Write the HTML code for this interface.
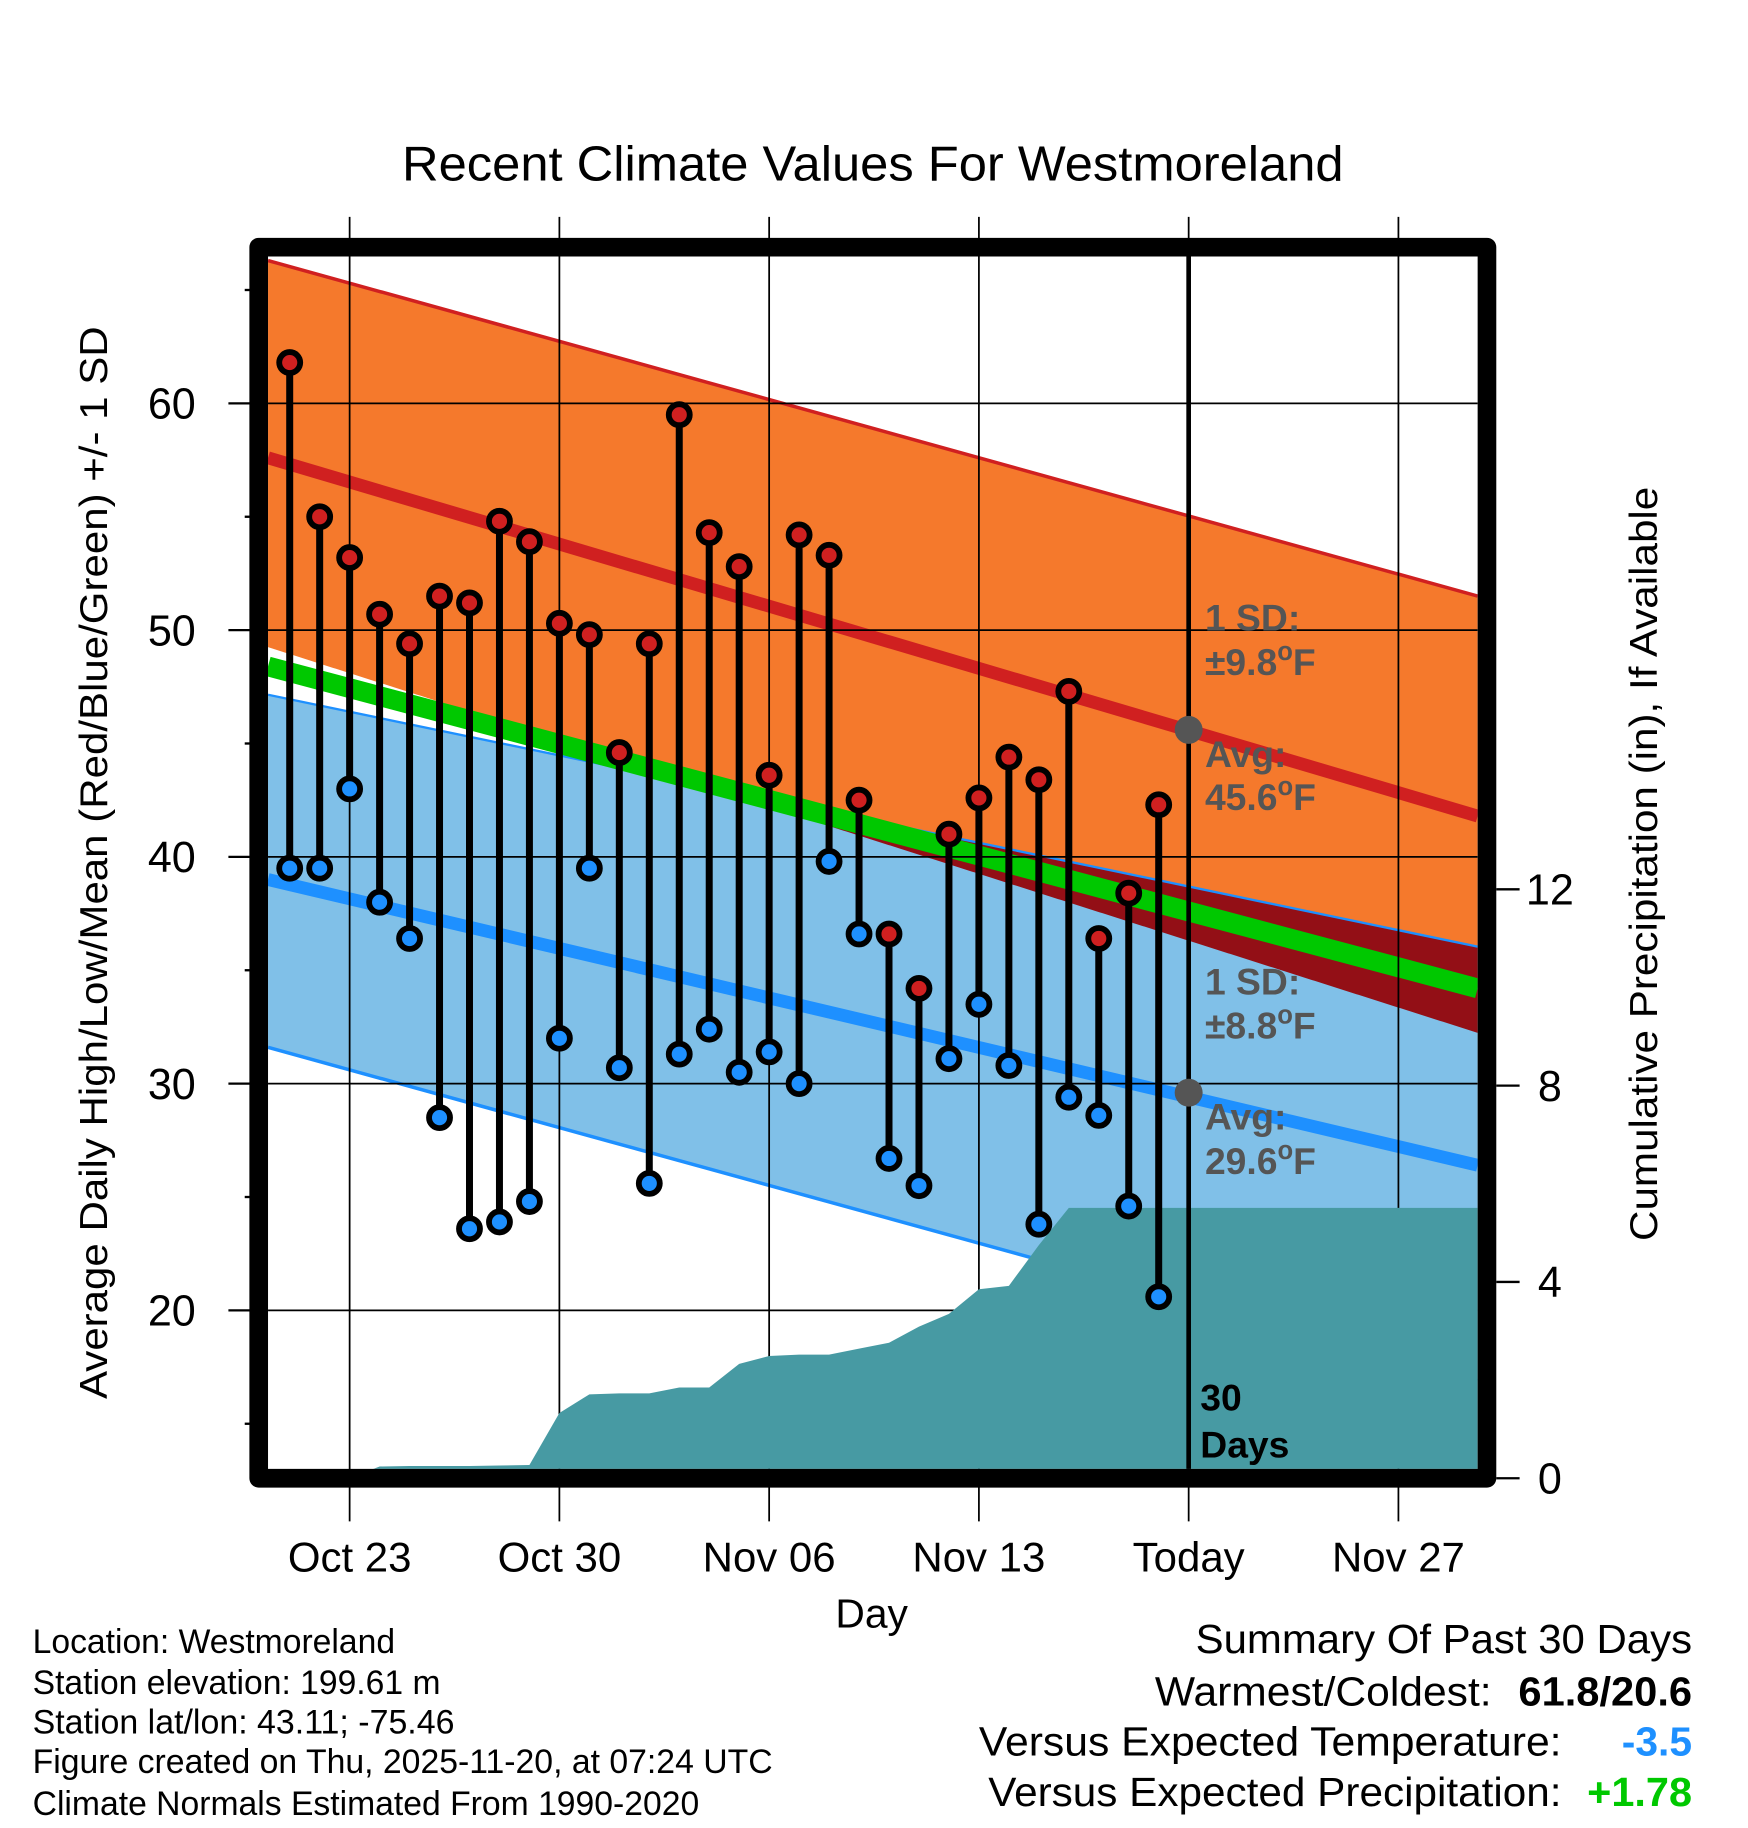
<!DOCTYPE html>
<html><head><meta charset="utf-8">
<style>
html,body{margin:0;padding:0;background:#fff;}
svg{display:block;}
text{font-family:"Liberation Sans",Arial,sans-serif;}
</style></head>
<body>
<svg id="chart" width="1748" height="1828" viewBox="0 0 1500 1568" preserveAspectRatio="none" xmlns="http://www.w3.org/2000/svg">
<defs><clipPath id="plotclip"><rect x="230" y="220" width="1038" height="1040"/></clipPath></defs>
<rect x="0" y="0" width="1500" height="1568" fill="#fff"/>
<g id="plot" clip-path="url(#plotclip)"></g>
<g id="over"></g>

<text x="749" y="155" font-size="42" text-anchor="middle" textLength="808" lengthAdjust="spacingAndGlyphs">Recent Climate Values For Westmoreland</text>
<text transform="translate(92,740) rotate(-90)" font-size="33" text-anchor="middle" textLength="920" lengthAdjust="spacingAndGlyphs">Average Daily High/Low/Mean (Red/Blue/Green) +/- 1 SD</text>
<text transform="translate(1422,741) rotate(-90)" font-size="33" text-anchor="middle" textLength="647" lengthAdjust="spacingAndGlyphs">Cumulative Precipitation (in), If Available</text>
<text x="748" y="1396" font-size="35" text-anchor="middle">Day</text>

<g font-size="29">
<text x="28" y="1418" textLength="311" lengthAdjust="spacingAndGlyphs">Location: Westmoreland</text>
<text x="28" y="1453" textLength="350" lengthAdjust="spacingAndGlyphs">Station elevation: 199.61 m</text>
<text x="28" y="1487" textLength="362" lengthAdjust="spacingAndGlyphs">Station lat/lon: 43.11; -75.46</text>
<text x="28" y="1521" textLength="635" lengthAdjust="spacingAndGlyphs">Figure created on Thu, 2025-11-20, at 07:24 UTC</text>
<text x="28" y="1557" textLength="572" lengthAdjust="spacingAndGlyphs">Climate Normals Estimated From 1990-2020</text>
</g>
<g font-size="35">
<text x="1026" y="1418" textLength="426" lengthAdjust="spacingAndGlyphs">Summary Of Past 30 Days</text>
<text x="991" y="1463" textLength="289" lengthAdjust="spacingAndGlyphs">Warmest/Coldest:</text>
<text x="1303" y="1463" font-weight="bold" textLength="149" lengthAdjust="spacingAndGlyphs">61.8/20.6</text>
<text x="840" y="1506" textLength="500" lengthAdjust="spacingAndGlyphs">Versus Expected Temperature:</text>
<text x="1452" y="1506" text-anchor="end" font-weight="bold" fill="#1e90ff">-3.5</text>
<text x="848" y="1549" textLength="492" lengthAdjust="spacingAndGlyphs">Versus Expected Precipitation:</text>
<text x="1362" y="1549" font-weight="bold" fill="#00c800" textLength="90" lengthAdjust="spacingAndGlyphs">+1.78</text>
</g>
</svg>
<script>
// ---- data ----
const days = ["Oct 21","Oct 22","Oct 23","Oct 24","Oct 25","Oct 26","Oct 27","Oct 28","Oct 29","Oct 30","Oct 31","Nov 01","Nov 02","Nov 03","Nov 04","Nov 05","Nov 06","Nov 07","Nov 08","Nov 09","Nov 10","Nov 11","Nov 12","Nov 13","Nov 14","Nov 15","Nov 16","Nov 17","Nov 18","Nov 19"];
const highs = [61.8,55.0,53.2,50.7,49.4,51.5,51.2,54.8,53.9,50.3,49.8,44.6,49.4,59.5,54.3,52.8,43.6,54.2,53.3,42.5,36.6,34.2,41.0,42.6,44.4,43.4,47.3,36.4,38.4,42.3];
const lows = [39.5,39.5,43.0,38.0,36.4,28.5,23.6,23.9,24.8,32.0,39.5,30.7,25.6,31.3,32.4,30.5,31.4,30.0,39.8,36.6,26.7,25.5,31.1,33.5,30.8,23.8,29.4,28.6,24.6,20.6];
const precip = [0,0,0,0.24,0.25,0.25,0.25,0.26,0.27,1.33,1.71,1.73,1.73,1.85,1.85,2.33,2.49,2.52,2.52,2.64,2.76,3.09,3.35,3.85,3.92,4.75,5.51,5.51,5.51,5.51];
// normals at left and right edges of plot
const normHighUpper = [66.3,51.5];
const normHigh = [57.6,41.8];
const normHighLower = [49.25,32.24];
const normMean = [48.4,34.2];
const normLowUpper = [47.15,36.04];
const normLow = [39.0,26.4];
const normLowLower = [31.6,16.9];
const yTicks = [20,30,40,50,60];
const yMinor = [15,25,35,45,55,65];
const pTicks = [0,4,8,12];
const xTickDays = [2,9,16,23,30,37];
const xTickLabels = ["Oct 23","Oct 30","Nov 06","Nov 13","Today","Nov 27"];
const todayIdx = 30;
const todayHigh = 45.6, todayLow = 29.6;

// ---- axes ----
const X0=230, X1=1268, Y0=220, Y1=1260;
const xd = i => 248.6 + 25.714*i;
const yt = v => 735 - (v-40)*19.45;
const yp = v => 1268 - 42.1*v;
const NS='http://www.w3.org/2000/svg';
const plot=document.getElementById('plot'), over=document.getElementById('over');
function mk(tag, attrs, parent){const e=document.createElementNS(NS,tag);for(const k in attrs)e.setAttribute(k,attrs[k]);parent.appendChild(e);return e;}
const lerpY = (arr,x) => yt(arr[0] + (arr[1]-arr[0])*(x-X0)/(X1-X0));
function band(a,b,fill,name){
  const pts=[];
  for(let x=X0;x<=X1;x+=2)pts.push(x+','+lerpY(a,x));
  for(let x=X1;x>=X0;x-=2)pts.push(x+','+lerpY(b,x));
  const p=mk('polygon',{points:pts.join(' '),fill:fill},plot);
  
  
}
function nline(a,w,col,name){
  const l=mk('line',{x1:X0,y1:yt(a[0]),x2:X1,y2:yt(a[1]),stroke:col,'stroke-width':w},plot);
  
  
}
band(normHighUpper,normHighLower,'#f5792c','high-sd-band');
band(normLowUpper,normLowLower,'#80c0e8','low-sd-band');
{
  const pts=[];
  for(let x=X0;x<=X1;x+=2)pts.push(x+','+lerpY(normLowUpper,x));
  for(let x=X1;x>=X0;x-=2)pts.push(x+','+Math.max(lerpY(normLowUpper,x),lerpY(normHighLower,x)));
  const p=mk('polygon',{points:pts.join(' '),fill:'#930f16'},plot);
  
  
}
nline(normHighUpper,3,'#d02020','high-sd-upper-line');
nline(normLowUpper,2,'#1e90ff','low-sd-upper-line');
nline(normLowLower,3,'#1e90ff','low-sd-lower-line');
nline(normMean,17,'#00c800','normal-mean-line');
nline(normHigh,11,'#d02020','normal-high-line');
nline(normLow,11,'#1e90ff','normal-low-line');
yTicks.forEach(v=>{
  const l=mk('line',{x1:X0,y1:yt(v),x2:X1,y2:yt(v),stroke:'#000','stroke-width':1.5},plot);
  
  
});
xTickDays.forEach(d=>{
  const l=mk('line',{x1:xd(d),y1:186,x2:xd(d),y2:1305,stroke:'#000','stroke-width':1.5},over);
  
  
});
{
  const g=mk('g',{'clip-path':'url(#plotclip)'},over);
  const pts=[X0+','+1270];
  precip.forEach((v,i)=>{ if(v>0 || (precip[i+1]||0)>0) pts.push(xd(i)+','+yp(v)); else pts.push(xd(i)+','+1270); });
  pts.push(X1+','+yp(precip[precip.length-1]));
  pts.push(X1+','+1270);
  const p=mk('polygon',{points:pts.join(' '),fill:'#479aa3'},g);
  
  
}
{
  const l=mk('line',{x1:xd(todayIdx),y1:Y0,x2:xd(todayIdx),y2:Y1,stroke:'#000','stroke-width':4},over);
  
  
  [todayHigh,todayLow].forEach(v=>{
    const c=mk('circle',{cx:xd(todayIdx),cy:yt(v),r:12,fill:'#555'},over);
    
    
  });
}
highs.forEach((h,i)=>{
  const x=xd(i);
  const s=mk('line',{x1:x,y1:yt(h),x2:x,y2:yt(lows[i]),stroke:'#000','stroke-width':6},over);
  
  
  const c1=mk('circle',{cx:x,cy:yt(h),r:9,fill:'#d02020',stroke:'#000','stroke-width':5},over);
  
  
  const c2=mk('circle',{cx:x,cy:yt(lows[i]),r:9,fill:'#1e90ff',stroke:'#000','stroke-width':5},over);
  
  
});
function txt(x,y,s,attrs,name,parent){
  const t=mk('text',Object.assign({x:x,y:y},attrs),parent||over);
  t.innerHTML=s;
  
  
  return t;
}
const ga={'font-size':32,'font-weight':'bold',fill:'#555'};
const deg='<tspan dy="-13" font-size="22">o</tspan><tspan dy="13">F</tspan>';
txt(1034,541,'1 SD:',ga,'high-sd-label');
txt(1034,579,'±9.8'+deg,ga,'high-sd-value');
txt(1034,658,'Avg:',ga,'high-avg-label');
txt(1034,695,'45.6'+deg,ga,'high-avg-value');
txt(1034,853,'1 SD:',ga,'low-sd-label');
txt(1034,891,'±8.8'+deg,ga,'low-sd-value');
txt(1034,969,'Avg:',ga,'low-avg-label');
txt(1034,1007,'29.6'+deg,ga,'low-avg-value');
txt(1030,1210,'30',{'font-size':32,'font-weight':'bold',fill:'#000'},'days-label');
txt(1030,1250,'Days',{'font-size':32,'font-weight':'bold',fill:'#000'},'days-label-2');
{
  const r=mk('rect',{x:222,y:212,width:1054,height:1056,fill:'none',stroke:'#000','stroke-width':16,'stroke-linejoin':'round'},over);
  
  
}
yTicks.forEach(v=>{
  const l=mk('line',{x1:196,y1:yt(v),x2:216,y2:yt(v),stroke:'#000','stroke-width':2},over);
  
  
  txt(168,yt(v)+13,String(v),{'font-size':37,'text-anchor':'end'},'y-tick-label');
});
yMinor.forEach(v=>{
  const l=mk('line',{x1:210,y1:yt(v),x2:216,y2:yt(v),stroke:'#000','stroke-width':2},over);
  
  
});
pTicks.forEach(v=>{
  const l=mk('line',{x1:1284,y1:yp(v),x2:1304,y2:yp(v),stroke:'#000','stroke-width':2},over);
  
  
  txt(1330,yp(v)+13,String(v),{'font-size':37,'text-anchor':'middle'},'precip-tick-label');
});
xTickDays.forEach((d,k)=>{
  txt(xd(d),1348,xTickLabels[k],{'font-size':36,'text-anchor':'middle'},'x-tick-label');
});
</script>
</body></html>
